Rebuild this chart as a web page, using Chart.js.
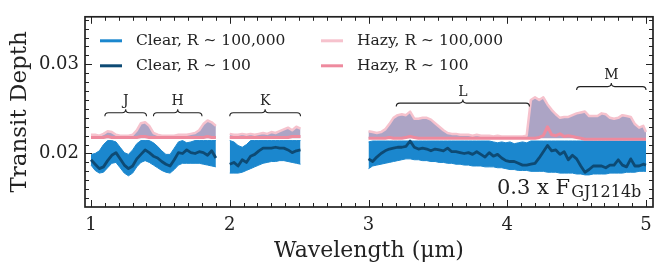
<!DOCTYPE html>
<html>
<head>
<meta charset="utf-8">
<title>Transit Depth</title>
<script src="https://cdn.jsdelivr.net/npm/chart.js@4.4.1/dist/chart.umd.min.js"></script>
<style>
    html, body { margin: 0; padding: 0; background: #fff; }
    #wrap { width: 664px; height: 276px; }
</style>
</head>
<body>
<div id="wrap"><canvas id="spectrumChart" width="664" height="276"></canvas></div>
<script>
// ================================
// Data
// null = gap between the bands
// ================================

const wavelength = [
    // J + H
    1.00, 1.03, 1.06, 1.09, 1.12, 1.15, 1.18, 1.21, 1.24, 1.27,
    1.30, 1.33, 1.36, 1.39, 1.42, 1.45, 1.48, 1.51, 1.54, 1.57,
    1.60, 1.63, 1.66, 1.69, 1.72, 1.75, 1.78, 1.81, 1.84, 1.87, 1.90,
    1.95,
    // K
    2.00, 2.03, 2.06, 2.09, 2.12, 2.15, 2.18, 2.21, 2.24, 2.27,
    2.30, 2.33, 2.36, 2.39, 2.42, 2.45, 2.48, 2.51,
    2.75,
    // L + M
    3.00, 3.03, 3.06, 3.09, 3.12, 3.15, 3.18, 3.21, 3.24, 3.27,
    3.30, 3.33, 3.36, 3.39, 3.42, 3.45, 3.48, 3.51, 3.54, 3.57,
    3.60, 3.63, 3.66, 3.69, 3.72, 3.75, 3.78, 3.81, 3.84, 3.87,
    3.90, 3.93, 3.96, 3.99, 4.02, 4.05, 4.08, 4.11, 4.14, 4.17,
    4.20, 4.23, 4.26, 4.29, 4.32, 4.35, 4.38, 4.41, 4.44, 4.47,
    4.50, 4.53, 4.56, 4.59, 4.62, 4.65, 4.68, 4.71, 4.74, 4.77,
    4.80, 4.83, 4.86, 4.89, 4.92, 4.95, 4.98, 5.00
];

// Clear, R ~ 100 (binned)
const clearLow = [
    .0193, .0188, .0183, .0185, .0192, .0198, .0201, .0194, .0187, .0183,
    .0186, .0194, .0199, .0204, .0201, .0197, .0195, .0191, .0188, .0186,
    .0193, .0201, .0200, .0204, .0201, .0200, .0202, .0201, .0198, .0203, .0195,
    null,
    .0188, .0190, .0186, .0193, .0190, .0197, .0199, .0203, .0206, .0206,
    .0206, .0207, .0206, .0206, .0204, .0201, .0203, .0204,
    null,
    .0194, .0191, .0196, .0200, .0203, .0205, .0206, .0207, .0207, .0208,
    .0214, .0207, .0205, .0206, .0205, .0203, .0205, .0204, .0203, .0206,
    .0202, .0202, .0201, .0200, .0201, .0199, .0202, .0199, .0196, .0201,
    .0197, .0199, .0195, .0192, .0191, .0191, .0189, .0187, .0187, .0188,
    .0189, .0195, .0202, .0209, .0203, .0204, .0199, .0202, .0193, .0198,
    .0194, .0186, .0179, .0182, .0186, .0186, .0186, .0184, .0187, .0187,
    .0193, .0187, .0185, .0194, .0186, .0186, .0188, .0187
];

// Clear, R ~ 100,000 : upper and lower envelope of the noisy spectrum
const clearHighTop = [
    .0199, .0200, .0203, .0210, .02145, .02145, .0213, .0207, .0201, .0199,
    .0204, .0211, .02145, .02145, .02145, .0212, .0208, .0203, .0199, .0199,
    .0206, .0213, .02145, .0212, .0213, .02145, .02145, .02145, .02145, .02145, .02145,
    null,
    .02145, .0213, .0209, .0207, .0210, .02145, .02145, .02145, .02145, .02145,
    .02145, .02145, .02145, .02145, .02145, .02145, .02145, .02145,
    null,
    .0213, .0214, .0214, .0214, .0214, .0214, .0214, .0214, .0214, .0214,
    .0214, .0214, .0214, .0214, .0214, .0214, .0214, .0214, .0214, .0214,
    .0214, .0214, .0214, .0214, .0214, .0214, .0214, .0214, .0214, .0214,
    .0213, .0212, .0213, .0212, .0213, .0211, .0212, .0213, .0212, .0214,
    .0214, .0214, .0214, .0214, .0214, .0214, .0214, .0214, .0214, .0214,
    .0214, .0214, .0214, .0214, .0214, .0214, .0214, .0214, .0214, .0214,
    .0214, .0214, .0214, .0214, .0214, .0214, .0214, .0214
];

const clearHighBottom = [
    .0187, .0181, .0178, .0179, .0184, .0189, .0190, .0184, .0178, .0175,
    .0178, .0185, .0190, .0192, .0190, .0187, .0184, .0181, .0179, .0178,
    .0182, .0187, .0189, .0189, .0189, .0189, .0189, .0188, .0187, .0186, .0185,
    null,
    .0178, .0178, .0178, .0179, .0181, .0183, .0185, .0187, .0189, .0190,
    .0191, .0191, .0192, .0192, .0191, .0190, .0189, .0188,
    null,
    .0183, .0186, .0187, .0188, .0189, .0190, .0191, .0192, .0193, .0194,
    .0194, .0193, .0193, .0192, .0192, .0191, .0191, .0190, .0190, .0189,
    .0189, .0188, .0188, .0187, .0187, .0186, .0186, .0186, .0185, .0185,
    .0185, .0184, .0184, .0183, .0182, .0182, .0181, .0181, .0181, .0180,
    .0180, .0180, .0180, .0179, .0179, .0179, .0178, .0178, .0178, .0178,
    .0177, .0177, .0176, .0176, .0177, .0177, .0177, .0177, .0178, .0178,
    .0178, .0178, .0179, .0179, .0179, .0180, .0180, .0180
];

// Hazy, R ~ 100,000 : upper envelope
const hazyHighTop = [
    .0221, .0221, .0220, .0222, .0225, .0224, .0221, .0220, .0220, .0220,
    .0221, .0226, .0234, .0235, .0231, .0223, .0221, .0220, .0220, .0220,
    .0220, .0221, .0221, .0221, .0222, .0223, .0226, .0233, .0237, .0235, .0231,
    null,
    .0222, .0221, .0221, .0222, .0221, .0222, .0221, .0222, .0223, .0222,
    .0224, .0223, .0225, .0227, .0229, .0226, .0230, .0228,
    null,
    .0225, .0224, .0223, .0224, .0227, .0233, .0240, .0243, .0244, .0243,
    .0247, .0239, .0239, .0240, .0240, .0238, .0234, .0230, .0226, .0223,
    .0222, .0222, .0221, .0221, .0221, .0220, .0221, .0220, .0220, .0220,
    .0219, .0220, .0219, .0219, .0219, .0219, .0219, .0219, .0220, .0260,
    .0263, .0260, .0263, .0255, .0249, .0244, .0240, .0241, .0241, .0243,
    .0245, .0246, .0247, .0242, .0242, .0242, .0245, .0244, .0240, .0239,
    .0240, .0243, .0242, .0241, .0233, .0229, .0231, .0224
];

// Hazy, R ~ 100 (binned)
const hazyLow = [
    .0218, .0218, .0218, .0218, .0219, .0218, .0218, .0218, .0218, .0218,
    .0218, .0218, .0219, .0219, .0218, .0218, .0218, .0218, .0218, .0218,
    .0218, .0218, .0218, .0218, .0218, .0218, .0218, .0218, .0219, .0218, .0218,
    null,
    .0218, .0218, .0218, .0218, .0218, .0218, .0218, .0218, .0218, .0218,
    .0218, .0218, .0218, .0218, .0218, .0219, .0219, .0219,
    null,
    .0217, .0217, .0217, .0217, .0217, .0218, .0217, .0217, .0217, .0218,
    .0219, .0218, .0217, .0217, .0217, .0217, .0217, .0217, .0217, .0217,
    .0217, .0217, .0217, .0217, .0217, .0217, .0217, .0217, .0217, .0217,
    .0217, .0217, .0217, .0217, .0217, .0217, .0217, .0217, .0217, .0217,
    .0217, .0218, .0220, .0230, .0221, .0220, .0222, .0219, .0220, .0219,
    .0218, .0217, .0216, .0216, .0216, .0216, .0216, .0216, .0216, .0216,
    .0216, .0216, .0216, .0216, .0216, .0216, .0216, .0216
];

// Axis ticks
const xMajorTicks = [1, 2, 3, 4, 5];
const yMajorTicks = [0.02, 0.03];

// Photometric bands (braces)
const bandNames = ["J", "H", "K", "L", "M"];
const bandStart = [1.10, 1.45, 2.00, 3.20, 4.50];
const bandEnd   = [1.40, 1.80, 2.51, 4.16, 5.00];
const bandLevel = [0.02457, 0.02457, 0.02457, 0.02565, 0.0275];

// ================================
// Style
// ================================

const FONT = "'DejaVu Serif', serif";
const INK = "#222222";

const colors = {
    clearHigh: "#1b87ce",
    clearLow: "#0d4a74",
    hazyHigh: "#f6c2cd",
    hazyFill: "#aca4c5",
    hazyLow: "#ee8a9e"
};

const legendItems = [
    { label: "Clear, R \u223C 100,000", color: colors.clearHigh, col: 0, row: 0 },
    { label: "Hazy, R \u223C 100,000", color: colors.hazyHigh, col: 1, row: 0 },
    { label: "Clear, R \u223C 100", color: colors.clearLow, col: 0, row: 1 },
    { label: "Hazy, R \u223C 100", color: colors.hazyLow, col: 1, row: 1 }
];

function toPoints(values) {
    return wavelength.map((w, i) => ({ x: w, y: values[i] }));
}

// ================================
// Frame, ticks, braces, legend
// ================================

function drawBrace(ctx, x0, x1, y, h) {
    const xm = (x0 + x1) / 2;
    ctx.beginPath();
    ctx.moveTo(x0, y + h);
    ctx.quadraticCurveTo(x0, y, x0 + h, y);
    ctx.lineTo(xm - h, y);
    ctx.quadraticCurveTo(xm, y, xm, y - h);
    ctx.quadraticCurveTo(xm, y, xm + h, y);
    ctx.lineTo(x1 - h, y);
    ctx.quadraticCurveTo(x1, y, x1, y + h);
    ctx.stroke();
}

const decorPlugin = {
    id: "decor",
    afterDatasetsDraw(chart) {
        const { ctx, chartArea: a, scales: { x, y } } = chart;
        ctx.save();

        // ticks on all four sides, pointing in
        ctx.strokeStyle = INK;
        ctx.lineWidth = 1;
        ctx.beginPath();
        for (let i = 10; i <= 50; i++) {
            const px = Math.round(x.getPixelForValue(i / 10)) + 0.5;
            const len = i % 10 === 0 ? 7 : 4;
            ctx.moveTo(px, a.bottom); ctx.lineTo(px, a.bottom - len);
            ctx.moveTo(px, a.top); ctx.lineTo(px, a.top + len);
        }
        for (let i = 15; i <= 35; i++) {
            const py = Math.round(y.getPixelForValue(i / 1000)) + 0.5;
            const len = i % 10 === 0 ? 7 : 4;
            ctx.moveTo(a.left, py); ctx.lineTo(a.left + len, py);
            ctx.moveTo(a.right, py); ctx.lineTo(a.right - len, py);
        }
        ctx.stroke();

        // frame
        ctx.lineWidth = 1.7;
        ctx.strokeRect(a.left, a.top, a.right - a.left, a.bottom - a.top);

        // band braces
        ctx.lineWidth = 1.1;
        ctx.fillStyle = INK;
        ctx.font = "14px " + FONT;
        ctx.textAlign = "center";
        ctx.textBaseline = "middle";
        bandNames.forEach((name, i) => {
            const x0 = x.getPixelForValue(bandStart[i]);
            const x1 = x.getPixelForValue(bandEnd[i]);
            const py = y.getPixelForValue(bandLevel[i]);
            drawBrace(ctx, x0, x1, py, 3.5);
            ctx.fillText(name, (x0 + x1) / 2, py - 11);
        });

        // scaling note
        ctx.textAlign = "left";
        ctx.textBaseline = "alphabetic";
        ctx.font = "21px " + FONT;
        const noteX = a.right - 156;
        const noteY = a.bottom - 13;
        ctx.fillText("0.3 x F", noteX, noteY);
        const w = ctx.measureText("0.3 x F").width;
        ctx.font = "16px " + FONT;
        ctx.fillText("GJ1214b", noteX + w + 1, noteY + 3);

        // legend (two columns, inside the axes)
        const colX = [a.left + 15, a.left + 236];
        const rowY = [a.top + 24, a.top + 49];
        ctx.font = "15.5px " + FONT;
        ctx.textBaseline = "middle";
        legendItems.forEach(item => {
            const lx = colX[item.col];
            const ly = rowY[item.row];
            ctx.strokeStyle = item.color;
            ctx.lineWidth = 3;
            ctx.beginPath();
            ctx.moveTo(lx, ly);
            ctx.lineTo(lx + 22, ly);
            ctx.stroke();
            ctx.fillStyle = INK;
            ctx.fillText(item.label, lx + 36, ly);
        });

        ctx.restore();
    }
};

// ================================
// Chart
// ================================

new Chart(document.getElementById("spectrumChart"), {

    type: "line",

    data: {
        datasets: [
            {
                label: "Clear, R ~ 100",
                data: toPoints(clearLow),
                borderColor: colors.clearLow,
                borderWidth: 2.8,
                fill: false,
                order: 0
            },
            {
                label: "Hazy, R ~ 100",
                data: toPoints(hazyLow),
                borderColor: colors.hazyLow,
                borderWidth: 3,
                fill: false,
                order: 1
            },
            {
                label: "Clear, R ~ 100,000",
                data: toPoints(clearHighTop),
                borderColor: colors.clearHigh,
                borderWidth: 1,
                backgroundColor: colors.clearHigh,
                fill: 3,
                order: 2
            },
            {
                label: "clear lower",
                data: toPoints(clearHighBottom),
                borderColor: colors.clearHigh,
                borderWidth: 1,
                fill: false,
                order: 3
            },
            {
                label: "Hazy, R ~ 100,000",
                data: toPoints(hazyHighTop),
                borderColor: colors.hazyHigh,
                borderWidth: 2.5,
                backgroundColor: colors.hazyFill,
                fill: { value: 0.0217 },
                order: 4
            }
        ]
    },

    options: {
        responsive: false,
        animation: false,
        devicePixelRatio: 1,
        spanGaps: false,
        layout: { padding: { top: 11, right: 11, left: 0, bottom: 0 } },
        elements: {
            point: { radius: 0 },
            line: { tension: 0, borderJoinStyle: "round" }
        },
        plugins: {
            legend: { display: false },
            tooltip: { enabled: false }
        },
        scales: {
            x: {
                type: "linear",
                min: 0.9568,
                max: 5.0504,
                grid: { display: false, drawTicks: false },
                border: { display: false },
                afterBuildTicks: s => { s.ticks = xMajorTicks.map(v => ({ value: v })); },
                afterFit: s => { s.height = 69; },
                ticks: {
                    font: { family: FONT, size: 18 },
                    color: INK,
                    padding: 8,
                    maxRotation: 0,
                    autoSkip: false,
                    callback: v => String(v)
                },
                title: {
                    display: true,
                    text: "Wavelength (\u03BCm)",
                    font: { family: FONT, size: 22 },
                    color: INK,
                    padding: { top: 0, bottom: 12 }
                }
            },
            y: {
                min: 0.0140,
                max: 0.03533,
                grid: { display: false, drawTicks: false },
                border: { display: false },
                afterBuildTicks: s => { s.ticks = yMajorTicks.map(v => ({ value: v })); },
                afterFit: s => { s.width = 85; },
                ticks: {
                    font: { family: FONT, size: 18 },
                    color: INK,
                    padding: 6,
                    callback: v => v.toFixed(2)
                },
                title: {
                    display: true,
                    text: "Transit Depth",
                    font: { family: FONT, size: 23 },
                    color: INK,
                    padding: { top: 6, bottom: 0 }
                }
            }
        }
    },

    plugins: [decorPlugin]

});
</script>
</body>
</html>
